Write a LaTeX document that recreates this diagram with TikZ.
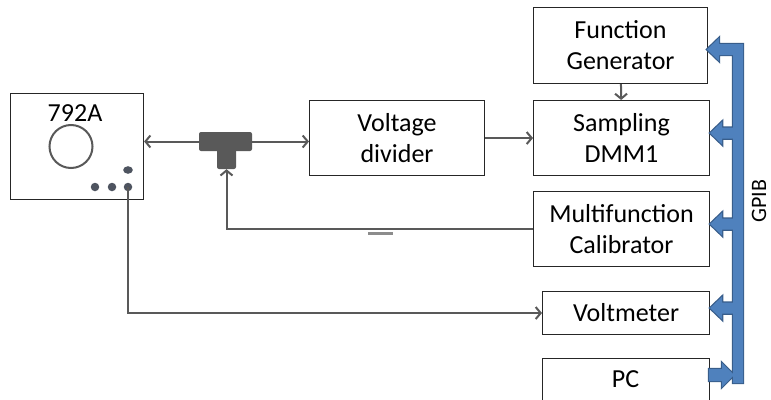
\documentclass[tikz,border=0pt]{standalone}
\usepackage{fontspec}
\setmainfont{Carlito}
\usetikzlibrary{arrows.meta,positioning}
\definecolor{wiregray}{RGB}{89,89,89}
\definecolor{busfill}{RGB}{79,129,189}
\definecolor{busline}{RGB}{56,93,138}
\definecolor{dotgray}{RGB}{78,84,96}
\tikzset{
     instr/.style={draw=black!85, line width=1.1pt, anchor=north west, align=center,
       inner sep=0pt, font=\fontsize{26}{31}\selectfont},
     wire/.style={draw=wiregray, line width=2pt},
     teepart/.style={fill=wiregray, rounded corners=2pt, inner sep=0pt},
     pin/.style={circle, fill=dotgray, inner sep=0pt, minimum size=8.5pt},
}
\tikzset{>={Straight Barb[length=5pt,width=12pt]}}

\begin{document}
\begin{tikzpicture}[x=1pt, y=-1pt]
		\useasboundingbox (0,0) rectangle (771,399);

		%% reference
		\node[instr, minimum width=133, minimum height=106] (ref) at (10,93) {};
		\node[font=\fontsize{26}{31}\selectfont] (reflabel) at (75,113) {792A};
		\draw[wiregray, line width=2pt] (71,146.5) circle (21.5);
		\node[pin] (p1) at (95,187) {};
		\node[pin] (p2) at (112,187) {};
		\node[pin] (p3) at (128,187) {};
		\fill[dotgray] (128,170) ellipse (4.8 and 3.8);

		%% instruments
		\node[instr, minimum width=175, minimum height=75] (vd) at (309,100) {Voltage\\divider};
		\node[instr, minimum width=174, minimum height=76] (fg) at (533,7) {Function\\Generator};
		\node[instr, minimum width=176, minimum height=75] (dmm) at (533,100) {Sampling\\DMM1};
		\node[instr, minimum width=176, minimum height=75] (mc) at (533,191) {Multifunction\\Calibrator};
		\node[instr, minimum width=167, minimum height=43] (vm) at (542,291) {Voltmeter};
		\node[instr, minimum width=167, minimum height=44] (pc) at (542,358) {};
		\node[font=\fontsize{26}{31}\selectfont] (pclabel) at (625.5,379) {PC};

		%% tee
		\node[teepart, minimum width=19, minimum height=27] (teestem) at (226.5,155.5) {};
		\node[teepart, minimum width=53, minimum height=19] (teebar) at (225.5,141.5) {};

		%% wiring
		\draw[wire, ->] (teebar.west) -- (teebar.west -| ref.east);
		\draw[wire, ->] (teebar.east) -- (teebar.east -| vd.west);
		\draw[wire, ->] (vd.east) -- (dmm.west);
		\draw[wire, ->] (fg) -- (dmm);
		\draw[wire, ->] (mc.west) -| (teestem.south);
		\draw[wire, ->] (p3.center) |- (vm.west);
		\draw[draw=black!45, line width=3pt] (368,233) -- (393,233);

		%% GPIB bus
		\path[save path=\gpibpath]
		  (743,44) -- (743,383) -- (733,383) -- (733,55) -- (719,55) -- (719,61)
		  -- (707,49.5) -- (719,38) -- (719,44) -- cycle
		  \foreach \n in {dmm,mc,vm}{
		    ([yshift=5pt]\n.east) -- ++(12,-11.5) -- ++(0,6) -- ++(16,0) -- ++(0,11)
		    -- ++(-16,0) -- ++(0,6) -- cycle
		  }
		  (709,369) -- (722,369) -- (722,363) -- (734,375) -- (722,387) -- (722,381)
		  -- (709,381) -- cycle;
		\draw[busline, line width=2.4pt, use path=\gpibpath];
		\fill[busfill, use path=\gpibpath];
		\node[rotate=90, inner sep=0pt, font=\fontsize{22}{26}\selectfont] (gpib) at (759,201) {GPIB};

		\end{tikzpicture}
\end{document}
